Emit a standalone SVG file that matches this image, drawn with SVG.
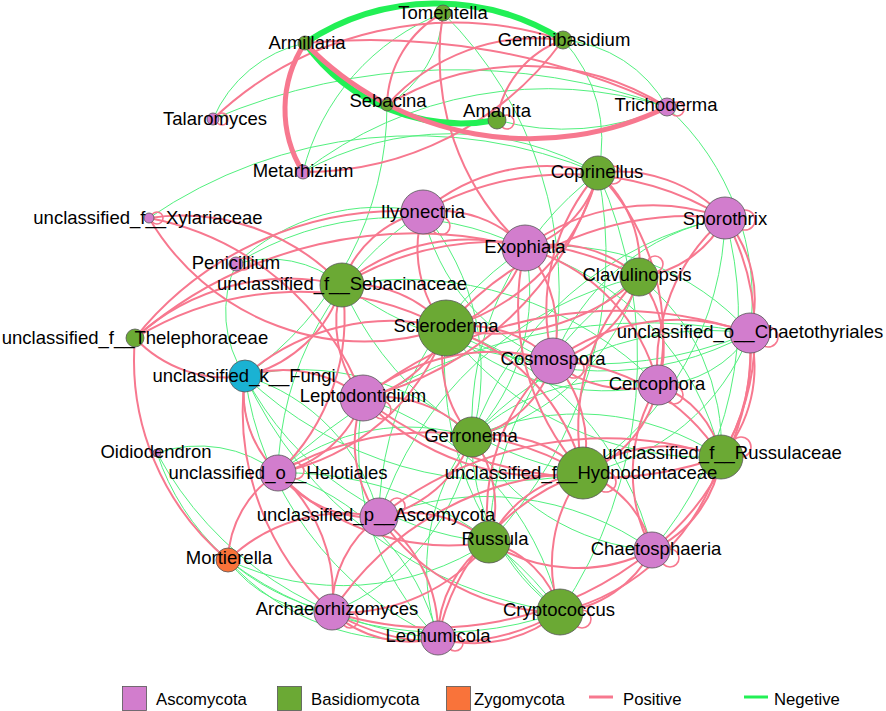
<svg xmlns="http://www.w3.org/2000/svg" width="886" height="711" viewBox="0 0 886 711">
<style>
.p{fill:none;stroke:#F7788F;stroke-width:2}
.n{fill:none;stroke:#52F07E;stroke-width:1}
.pt{fill:none;stroke:#F7788F;stroke-width:5}
.gt{fill:none;stroke:#22F055;stroke-width:6}
.lp{fill:none;stroke:#F7788F;stroke-width:1.6}
.nd{stroke:#555;stroke-width:0.8}
.A{fill:#D27DCD}.B{fill:#6BA934}.Z{fill:#F9733A}.K{fill:#1AB2D3}
text{font-family:"Liberation Sans",Arial,sans-serif;font-size:18.5px;fill:#000;text-anchor:middle}
.lg{font-size:16.7px;text-anchor:start}
</style>
<rect width="886" height="711" fill="#fff"/>
<g id="connectors">
<!-- top cluster -->
<path class="n" d="M443 13 A230 230 0 0 0 303 172"/>
<path class="n" d="M443 13 A392 392 0 0 1 553 361"/>
<path class="n" d="M213 119 A130 130 0 0 1 305 43"/>
<path class="n" d="M213 119 A620 620 0 0 1 667 107"/>
<path class="n" d="M303 172 A400 400 0 0 1 667 107"/>
<path class="n" d="M497 120 A250 250 0 0 0 667 107"/>
<path class="n" d="M563 40 A131 131 0 0 1 667 107"/>
<path class="n" d="M443 13 A114 114 0 0 1 387 105"/>
<path class="n" d="M387 105 A330 330 0 0 1 245 376"/>
<path class="n" d="M303 172 A300 300 0 0 1 598 173"/>
<path class="n" d="M149 218 A470 470 0 0 1 598 173"/>
<path class="n" d="M563 40 A147 147 0 0 1 598 173"/>
<path class="n" d="M750 333 A259 259 0 0 0 667 107"/>
<path class="p" d="M305 43 A690 690 0 0 1 667 107"/>
<path class="p" d="M443 13 A108 108 0 0 0 387 105"/>
<path class="p" d="M563 40 A100 100 0 0 0 497 120"/>
<path class="p" d="M563 40 A200 200 0 0 0 387 105"/>
<path class="p" d="M443 13 A260 260 0 0 0 525 248"/>
<path class="p" d="M303 172 A320 320 0 0 0 563 40"/>
<path class="p" d="M213 119 A350 350 0 0 1 563 40"/>
<path class="p" d="M387 105 A265 265 0 0 1 667 107"/>
<!-- negative edges -->
<path class="n" d="M245 376 A110 110 0 0 0 278 473"/>
<path class="n" d="M245 376 A339 339 0 0 0 438 638"/>
<path class="n" d="M245 376 A195 195 0 0 1 379 517"/>
<path class="n" d="M245 376 A310 310 0 0 0 489 542"/>
<path class="n" d="M245 376 A409 409 0 0 0 560 612"/>
<path class="n" d="M245 376 A116 116 0 0 1 236 264"/>
<path class="n" d="M228 560 A125 125 0 0 0 332 612"/>
<path class="n" d="M228 560 A241 241 0 0 0 438 638"/>
<path class="n" d="M228 560 A268 268 0 0 0 489 542"/>
<path class="n" d="M228 560 A353 353 0 0 0 560 612"/>
<path class="n" d="M157 453 A239 239 0 0 0 332 612"/>
<path class="n" d="M157 453 A355 355 0 0 0 438 638"/>
<path class="n" d="M157 453 A129 129 0 0 1 278 473"/>
<path class="n" d="M236 264 A114 114 0 0 1 342 285"/>
<path class="n" d="M236 264 A208 208 0 0 1 423 212"/>
<path class="n" d="M236 264 A295 295 0 0 1 525 248"/>
<path class="n" d="M750 333 A306 306 0 0 1 446 328"/>
<path class="n" d="M750 333 A320 320 0 0 0 472 437"/>
<path class="n" d="M750 333 A427 427 0 0 1 342 285"/>
<path class="n" d="M750 333 A528 528 0 0 0 278 473"/>
<path class="n" d="M658 385 A235 235 0 0 1 446 328"/>
<path class="n" d="M658 385 A356 356 0 0 0 342 285"/>
<path class="n" d="M658 385 A207 207 0 0 0 472 437"/>
<path class="n" d="M725 218 A341 341 0 0 0 472 437"/>
<path class="n" d="M725 218 A312 312 0 0 1 583 473"/>
<path class="n" d="M725 218 A361 361 0 0 1 652 550"/>
<path class="n" d="M639 277 A325 325 0 0 0 489 542"/>
<path class="n" d="M639 277 A231 231 0 0 1 472 437"/>
<path class="n" d="M639 277 A356 356 0 0 0 379 517"/>
<path class="n" d="M721 457 A257 257 0 0 0 472 437"/>
<path class="n" d="M721 457 A327 327 0 0 1 446 328"/>
<path class="n" d="M721 457 A287 287 0 0 0 525 248"/>
<path class="n" d="M652 550 A225 225 0 0 1 472 437"/>
<path class="n" d="M652 550 A286 286 0 0 0 379 517"/>
<path class="n" d="M652 550 A304 304 0 0 0 446 328"/>
<path class="n" d="M560 612 A210 210 0 0 1 472 437"/>
<path class="n" d="M560 612 A293 293 0 0 0 363 398"/>
<path class="n" d="M560 612 A330 330 0 0 1 446 328"/>
<path class="n" d="M560 612 A338 338 0 0 0 278 473"/>
<path class="n" d="M438 638 A215 215 0 0 1 472 437"/>
<path class="n" d="M438 638 A270 270 0 0 1 363 398"/>
<path class="n" d="M438 638 A229 229 0 0 0 278 473"/>
<path class="n" d="M472 437 A231 231 0 0 1 332 612"/>
<path class="n" d="M472 437 A208 208 0 0 0 278 473"/>
<path class="n" d="M423 212 A201 201 0 0 0 553 361"/>
<path class="n" d="M423 212 A245 245 0 0 1 472 437"/>
<path class="n" d="M423 212 A319 319 0 0 0 278 473"/>
<path class="n" d="M598 173 A314 314 0 0 0 472 437"/>
<path class="n" d="M598 173 A413 413 0 0 1 489 542"/>
<path class="n" d="M598 173 A454 454 0 0 1 560 612"/>
<path class="n" d="M525 248 A210 210 0 0 1 472 437"/>
<path class="n" d="M525 248 A327 327 0 0 0 379 517"/>
<path class="n" d="M583 473 A316 316 0 0 1 342 285"/>
<path class="n" d="M725 218 A229 229 0 0 0 553 361"/>
<path class="n" d="M750 333 A113 113 0 0 1 658 385"/>
<path class="n" d="M750 333 A259 259 0 0 0 525 248"/>
<path class="n" d="M721 457 A213 213 0 0 0 639 277"/>
<path class="n" d="M583 473 A223 223 0 0 0 750 333"/>
<path class="n" d="M245 376 A251 251 0 0 1 472 437"/>
<path class="n" d="M245 376 A377 377 0 0 0 583 473"/>
<!-- positive edges -->
<path class="p" d="M423 212 A300 300 0 0 1 725 218"/>
<path class="p" d="M423 212 A190 190 0 0 1 598 173"/>
<path class="p" d="M598 173 A145 145 0 0 1 725 218"/>
<path class="p" d="M598 173 A104 104 0 0 1 525 248"/>
<path class="p" d="M598 173 A120 120 0 0 1 639 277"/>
<path class="p" d="M598 173 A216 216 0 0 1 446 328"/>
<path class="p" d="M598 173 A206 206 0 0 0 553 361"/>
<path class="p" d="M598 173 A236 236 0 0 1 658 385"/>
<path class="p" d="M598 173 A325 325 0 0 1 363 398"/>
<path class="p" d="M525 248 A212 212 0 0 1 725 218"/>
<path class="p" d="M525 248 A112 112 0 0 1 446 328"/>
<path class="p" d="M525 248 A198 198 0 0 0 342 285"/>
<path class="p" d="M525 248 A126 126 0 0 1 639 277"/>
<path class="p" d="M525 248 A116 116 0 0 0 423 212"/>
<path class="p" d="M525 248 A124 124 0 0 1 553 361"/>
<path class="p" d="M525 248 A190 190 0 0 1 658 385"/>
<path class="p" d="M525 248 A248 248 0 0 0 583 473"/>
<path class="p" d="M525 248 A426 426 0 0 0 135 338"/>
<path class="p" d="M725 218 A110 110 0 0 1 639 277"/>
<path class="p" d="M725 218 A125 125 0 0 1 750 333"/>
<path class="p" d="M725 218 A194 194 0 0 0 658 385"/>
<path class="p" d="M725 218 A240 240 0 0 1 721 457"/>
<path class="p" d="M725 218 A323 323 0 0 0 446 328"/>
<path class="p" d="M639 277 A213 213 0 0 1 446 328"/>
<path class="p" d="M639 277 A120 120 0 0 1 553 361"/>
<path class="p" d="M639 277 A116 116 0 0 1 658 385"/>
<path class="p" d="M639 277 A218 218 0 0 0 583 473"/>
<path class="p" d="M750 333 A136 136 0 0 1 721 457"/>
<path class="p" d="M750 333 A200 200 0 0 1 721 457"/>
<path class="p" d="M750 333 A256 256 0 0 1 652 550"/>
<path class="p" d="M750 333 A208 208 0 0 0 553 361"/>
<path class="p" d="M750 333 A413 413 0 0 0 363 398"/>
<path class="p" d="M658 385 A118 118 0 0 1 583 473"/>
<path class="p" d="M658 385 A97 97 0 0 1 721 457"/>
<path class="p" d="M658 385 A115 115 0 0 1 553 361"/>
<path class="p" d="M658 385 A165 165 0 0 0 652 550"/>
<path class="p" d="M721 457 A121 121 0 0 1 652 550"/>
<path class="p" d="M721 457 A223 223 0 0 1 560 612"/>
<path class="p" d="M721 457 A144 144 0 0 0 583 473"/>
<path class="p" d="M721 457 A366 366 0 0 0 379 517"/>
<path class="p" d="M652 550 A117 117 0 0 1 560 612"/>
<path class="p" d="M652 550 A105 105 0 0 0 583 473"/>
<path class="p" d="M652 550 A163 163 0 0 1 489 542"/>
<path class="p" d="M652 550 A345 345 0 0 1 332 612"/>
<path class="p" d="M446 328 A121 121 0 0 0 342 285"/>
<path class="p" d="M446 328 A125 125 0 0 1 423 212"/>
<path class="p" d="M446 328 A111 111 0 0 1 363 398"/>
<path class="p" d="M446 328 A120 120 0 0 1 553 361"/>
<path class="p" d="M446 328 A119 119 0 0 0 472 437"/>
<path class="p" d="M446 328 A200 200 0 0 1 583 473"/>
<path class="p" d="M446 328 A220 220 0 0 0 245 376"/>
<path class="p" d="M446 328 A226 226 0 0 1 278 473"/>
<path class="p" d="M446 328 A315 315 0 0 0 135 338"/>
<path class="p" d="M342 285 A110 110 0 0 1 423 212"/>
<path class="p" d="M342 285 A121 121 0 0 0 363 398"/>
<path class="p" d="M342 285 A214 214 0 0 1 278 473"/>
<path class="p" d="M342 285 A133 133 0 0 1 245 376"/>
<path class="p" d="M342 285 A220 220 0 0 0 149 218"/>
<path class="p" d="M342 285 A300 300 0 0 1 639 277"/>
<path class="p" d="M363 398 A127 127 0 0 0 245 376"/>
<path class="p" d="M363 398 A125 125 0 0 1 472 437"/>
<path class="p" d="M363 398 A250 250 0 0 0 583 473"/>
<path class="p" d="M363 398 A205 205 0 0 1 553 361"/>
<path class="p" d="M363 398 A115 115 0 0 1 278 473"/>
<path class="p" d="M363 398 A125 125 0 0 0 379 517"/>
<path class="p" d="M363 398 A382 382 0 0 0 721 457"/>
<path class="p" d="M472 437 A125 125 0 0 1 583 473"/>
<path class="p" d="M472 437 A111 111 0 0 0 553 361"/>
<path class="p" d="M472 437 A125 125 0 0 1 379 517"/>
<path class="p" d="M472 437 A112 112 0 0 1 489 542"/>
<path class="p" d="M278 473 A119 119 0 0 0 379 517"/>
<path class="p" d="M278 473 A161 161 0 0 1 332 612"/>
<path class="p" d="M278 473 A107 107 0 0 0 228 560"/>
<path class="p" d="M278 473 A110 110 0 0 1 245 376"/>
<path class="p" d="M278 473 A239 239 0 0 0 489 542"/>
<path class="p" d="M278 473 A305 305 0 0 1 583 473"/>
<path class="p" d="M379 517 A114 114 0 0 0 332 612"/>
<path class="p" d="M379 517 A120 120 0 0 1 489 542"/>
<path class="p" d="M379 517 A219 219 0 0 0 560 612"/>
<path class="p" d="M379 517 A145 145 0 0 1 438 638"/>
<path class="p" d="M489 542 A99 99 0 0 1 560 612"/>
<path class="p" d="M489 542 A185 185 0 0 1 332 612"/>
<path class="p" d="M489 542 A116 116 0 0 0 438 638"/>
<path class="p" d="M489 542 A122 122 0 0 1 583 473"/>
<path class="p" d="M332 612 A228 228 0 0 0 560 612"/>
<path class="p" d="M332 612 A116 116 0 0 0 438 638"/>
<path class="p" d="M332 612 A307 307 0 0 1 583 473"/>
<path class="p" d="M438 638 A132 132 0 0 0 560 612"/>
<path class="p" d="M438 638 A223 223 0 0 1 583 473"/>
<path class="p" d="M560 612 A148 148 0 0 1 583 473"/>
<path class="p" d="M228 560 A168 168 0 0 1 379 517"/>
<path class="p" d="M245 376 A125 125 0 0 1 135 338"/>
<path class="p" d="M245 376 A271 271 0 0 0 332 612"/>
<path class="p" d="M149 218 A286 286 0 0 1 363 398"/>
<path class="p" d="M149 218 A250 250 0 0 0 446 328"/>
<path class="p" d="M135 338 A228 228 0 0 1 342 285"/>
<path class="p" d="M135 338 A338 338 0 0 1 423 212"/>
<path class="p" d="M135 338 A259 259 0 0 0 228 560"/>
<path class="p" d="M553 361 A124 124 0 0 1 583 473"/>
<path class="p" d="M553 361 A206 206 0 0 1 721 457"/>
<path class="p" d="M553 361 A207 207 0 0 0 489 542"/>
<!-- thick edges -->
<path class="gt" d="M305 43 A238 238 0 0 1 563 40"/>
<path class="gt" d="M497 120 A193 193 0 0 1 305 43"/>
<path class="pt" d="M305 43 A312 312 0 0 0 667 107"/>
<path class="pt" d="M305 43 A119 119 0 0 0 303 172"/>
<!-- self loops -->
<circle class="lp" cx="222" cy="119" r="6"/>
<circle class="lp" cx="157" cy="218" r="6"/>
<circle class="lp" cx="244" cy="264" r="6"/>
<circle class="lp" cx="507" cy="122" r="7"/>
<circle class="lp" cx="677" cy="109" r="7"/>
<circle class="lp" cx="613" cy="175" r="9"/>
<circle class="lp" cx="441" cy="226" r="9"/>
<circle class="lp" cx="745" cy="220" r="10"/>
<circle class="lp" cx="655" cy="264" r="8"/>
<circle class="lp" cx="768" cy="337" r="10"/>
<circle class="lp" cx="574" cy="368" r="10"/>
<circle class="lp" cx="382" cy="410" r="9"/>
<circle class="lp" cx="674" cy="395" r="9"/>
<circle class="lp" cx="606" cy="482" r="10"/>
<circle class="lp" cx="741" cy="447" r="10"/>
<circle class="lp" cx="397" cy="506" r="8"/>
<circle class="lp" cx="670" cy="558" r="9"/>
<circle class="lp" cx="350" cy="620" r="8"/>
<circle class="lp" cx="455" cy="643" r="8"/>
<circle class="lp" cx="582" cy="619" r="9"/>
<circle class="lp" cx="296" cy="471" r="8"/>
</g>
<g id="n-tomentella"><circle class="nd B" cx="443" cy="13" r="8"/><text x="443" y="19">Tomentella</text></g>
<g id="n-armillaria"><circle class="nd B" cx="305" cy="43" r="7"/><text x="307" y="49">Armillaria</text></g>
<g id="n-geminibasidium"><circle class="nd B" cx="563" cy="40" r="9"/><text x="564" y="46">Geminibasidium</text></g>
<g id="n-sebacina"><circle class="nd B" cx="387" cy="105" r="6"/><text x="388" y="107">Sebacina</text></g>
<g id="n-amanita"><circle class="nd B" cx="497" cy="120" r="9"/><text x="497" y="117">Amanita</text></g>
<g id="n-trichoderma"><circle class="nd A" cx="667" cy="107" r="9"/><text x="666" y="111">Trichoderma</text></g>
<g id="n-talaromyces"><circle class="nd A" cx="213" cy="119" r="6"/><text x="215" y="125">Talaromyces</text></g>
<g id="n-metarhizium"><circle class="nd A" cx="303" cy="172" r="7"/><text x="303" y="177">Metarhizium</text></g>
<g id="n-coprinellus"><circle class="nd B" cx="598" cy="173" r="17"/><text x="597" y="178">Coprinellus</text></g>
<g id="n-xylariaceae"><circle class="nd A" cx="149" cy="218" r="5"/><text x="148" y="224">unclassified_f__Xylariaceae</text></g>
<g id="n-ilyonectria"><circle class="nd A" cx="423" cy="212" r="22"/><text x="423" y="218">Ilyonectria</text></g>
<g id="n-sporothrix"><circle class="nd A" cx="725" cy="218" r="21"/><text x="725" y="225">Sporothrix</text></g>
<g id="n-exophiala"><circle class="nd A" cx="525" cy="248" r="23"/><text x="525" y="253">Exophiala</text></g>
<g id="n-penicillium"><circle class="nd A" cx="236" cy="264" r="7"/><text x="236" y="269">Penicillium</text></g>
<g id="n-sebacinaceae"><circle class="nd B" cx="342" cy="285" r="22"/><text x="342" y="290">unclassified_f__Sebacinaceae</text></g>
<g id="n-clavulinopsis"><circle class="nd B" cx="639" cy="277" r="19"/><text x="637" y="281">Clavulinopsis</text></g>
<g id="n-thelephoraceae"><circle class="nd B" cx="135" cy="338" r="9"/><text x="135" y="344">unclassified_f__Thelephoraceae</text></g>
<g id="n-scleroderma"><circle class="nd B" cx="446" cy="328" r="28"/><text x="446" y="332">Scleroderma</text></g>
<g id="n-chaetothyriales"><circle class="nd A" cx="750" cy="333" r="20"/><text x="750" y="338">unclassified_o__Chaetothyriales</text></g>
<g id="n-cosmospora"><circle class="nd A" cx="553" cy="361" r="23"/><text x="553" y="365">Cosmospora</text></g>
<g id="n-fungi"><circle class="nd K" cx="245" cy="376" r="16"/><text x="244" y="382">unclassified_k__Fungi</text></g>
<g id="n-leptodontidium"><circle class="nd A" cx="363" cy="398" r="23"/><text x="363" y="402">Leptodontidium</text></g>
<g id="n-cercophora"><circle class="nd A" cx="658" cy="385" r="20"/><text x="657" y="390">Cercophora</text></g>
<g id="n-gerronema"><circle class="nd B" cx="472" cy="437" r="20"/><text x="471" y="442">Gerronema</text></g>
<g id="n-russulaceae"><circle class="nd B" cx="721" cy="457" r="22"/><text x="722" y="459">unclassified_f__Russulaceae</text></g>
<g id="n-oidiodendron"><circle class="nd A" cx="157" cy="453" r="4"/><text x="156" y="458">Oidiodendron</text></g>
<g id="n-helotiales"><circle class="nd A" cx="278" cy="473" r="18"/><text x="278" y="479">unclassified_o__Helotiales</text></g>
<g id="n-hydnodontaceae"><circle class="nd B" cx="583" cy="473" r="26"/><text x="581" y="479">unclassified_f__Hydnodontaceae</text></g>
<g id="n-ascomycota"><circle class="nd A" cx="379" cy="517" r="19"/><text x="376" y="521">unclassified_p__Ascomycota</text></g>
<g id="n-russula"><circle class="nd B" cx="489" cy="542" r="21"/><text x="495" y="545">Russula</text></g>
<g id="n-mortierella"><circle class="nd Z" cx="228" cy="560" r="12"/><text x="229" y="564">Mortierella</text></g>
<g id="n-chaetosphaeria"><circle class="nd A" cx="652" cy="550" r="18"/><text x="656" y="555">Chaetosphaeria</text></g>
<g id="n-archaeorhizomyces"><circle class="nd A" cx="332" cy="612" r="18"/><text x="337" y="615">Archaeorhizomyces</text></g>
<g id="n-cryptococcus"><circle class="nd B" cx="560" cy="612" r="23"/><text x="559" y="616">Cryptococcus</text></g>
<g id="n-leohumicola"><circle class="nd A" cx="438" cy="638" r="17"/><text x="438" y="642">Leohumicola</text></g>
<g id="legend">
<rect class="nd A" x="122.5" y="686.5" width="24" height="24"/>
<text class="lg" x="156" y="705">Ascomycota</text>
<rect class="nd B" x="277.5" y="686.5" width="24" height="24"/>
<text class="lg" x="311" y="705">Basidiomycota</text>
<rect class="nd Z" x="446.5" y="686.5" width="24" height="24"/>
<text class="lg" x="474" y="705">Zygomycota</text>
<line x1="589" y1="697" x2="613" y2="697" stroke="#F7788F" stroke-width="3"/>
<text class="lg" x="623" y="705">Positive</text>
<line x1="744" y1="697" x2="768" y2="697" stroke="#22F055" stroke-width="3"/>
<text class="lg" x="774" y="705">Negetive</text>
</g>
</svg>
